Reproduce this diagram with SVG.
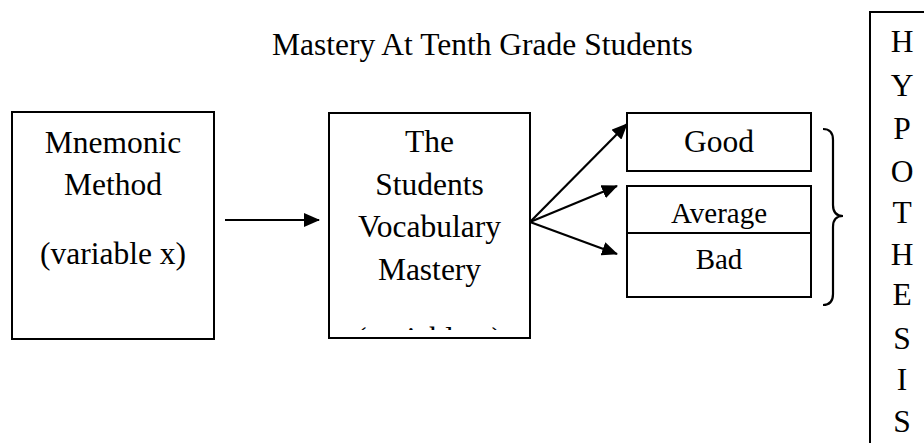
<svg xmlns="http://www.w3.org/2000/svg" width="924" height="443" viewBox="0 0 924 443">
<style>
  .box { fill: #fff; stroke: #000; stroke-width: 2; }
  .t { font-family: "Liberation Serif", "Times New Roman", serif; font-size: 31.5px; fill: #000; text-anchor: middle; }
  .s { font-size: 29px; }
  .con { stroke: #000; stroke-width: 2.2; fill: none; }
</style>
<defs>
  <marker id="ah" markerUnits="userSpaceOnUse" markerWidth="16" markerHeight="14" refX="15" refY="7" orient="auto">
    <path d="M0,0 L16,7 L0,14 Z" fill="#000"/>
  </marker>
  <clipPath id="clip2"><rect x="330" y="114" width="199" height="216"/></clipPath>
</defs>
<rect width="924" height="443" fill="#fff"/>

<text class="t" x="272" y="55" style="text-anchor:start">Mastery At Tenth Grade Students</text>

<g id="node-mnemonic">
  <rect class="box" x="12" y="112" width="202" height="227"/>
  <text class="t" x="113" y="153">Mnemonic</text>
  <text class="t" x="113" y="195">Method</text>
  <text class="t" x="113" y="264">(variable x)</text>
</g>

<g id="node-mastery">
  <rect class="box" x="329" y="113" width="201" height="225"/>
  <text class="t" x="429.5" y="152">The</text>
  <text class="t" x="429.5" y="195">Students</text>
  <text class="t" x="429.5" y="237">Vocabulary</text>
  <text class="t" x="429.5" y="280">Mastery</text>
  <text class="t" x="429" y="349" clip-path="url(#clip2)">(variable y)</text>
</g>

<g id="node-good">
  <rect class="box" x="627" y="113" width="184" height="58"/>
  <text class="t" x="719" y="152">Good</text>
</g>

<g id="node-average-bad">
  <rect class="box" x="627" y="186" width="184" height="111"/>
  <line class="box" x1="627" y1="233" x2="811" y2="233"/>
  <text class="t s" x="719" y="223">Average</text>
  <text class="t s" x="719" y="269">Bad</text>
</g>

<g id="brace">
  <path class="con" stroke-width="2" d="M823,129 Q833,129 833,140 L833,205 Q833,216 843,216 Q833,216 833,227 L833,294 Q833,305 823,305"/>
</g>

<g id="node-hypothesis">
  <rect class="box" x="870" y="12" width="70" height="450"/>
  <text class="t" x="902" y="52">H</text>
  <text class="t" x="902" y="96">Y</text>
  <text class="t" x="902" y="139">P</text>
  <text class="t" x="902" y="182">O</text>
  <text class="t" x="902" y="223">T</text>
  <text class="t" x="902" y="265">H</text>
  <text class="t" x="902" y="305">E</text>
  <text class="t" x="902" y="349">S</text>
  <text class="t" x="902" y="390">I</text>
  <text class="t" x="902" y="432">S</text>
</g>

<g id="connectors">
  <line class="con" x1="225" y1="220" x2="319" y2="220" marker-end="url(#ah)"/>
  <line class="con" x1="530" y1="222" x2="627" y2="124" marker-end="url(#ah)"/>
  <line class="con" x1="530" y1="222" x2="617" y2="186" marker-end="url(#ah)"/>
  <line class="con" x1="530" y1="222" x2="617" y2="254" marker-end="url(#ah)"/>
</g>
</svg>
